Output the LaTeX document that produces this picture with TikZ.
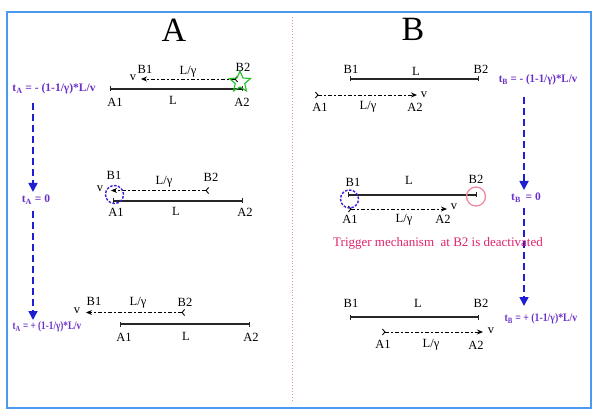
\documentclass[tikz,border=0pt]{standalone}
\usepackage{fontspec}
\usepackage{graphicx}
\setmainfont{Liberation Serif}
\usetikzlibrary{arrows.meta,shapes.geometric}
\definecolor{frameblue}{HTML}{4A9AF0}
\definecolor{divpink}{HTML}{E890B0}
\definecolor{tpurple}{HTML}{6A30C8}
\definecolor{arrblue}{HTML}{1E1ED2}
\definecolor{ringblue}{HTML}{3A1ED8}
\definecolor{trigpink}{HTML}{E0246E}
\definecolor{starg}{HTML}{20C020}
\definecolor{ringpink}{HTML}{F08AA0}
\begin{document}
\begin{tikzpicture}[x=1pt,y=-1pt,
 lbl/.style={font=\fontsize{12.5}{12.5}\selectfont, inner sep=0pt},
 bigtitle/.style={font=\fontsize{34}{34}\selectfont, inner sep=0pt},
 rod/.style={line width=1.1pt, draw=black!85, {Bar[width=5pt]}-{Bar[width=5pt]}},
 mover/.style={line width=0.9pt, dash pattern=on 4pt off 2pt on 2pt off 2pt,
   {Straight Barb[reversed,length=2.5pt,width=6pt]}-{Stealth[length=6pt,width=5pt]}},
 timeflow/.style={arrblue, line width=1.7pt, dash pattern=on 7pt off 4pt,
   -{Triangle[length=9pt,width=9pt]}},
 tlabel/.style={tpurple, font=\bfseries\fontsize{11.5}{12}\selectfont, inner sep=0pt},
 bluering/.style={circle, draw=ringblue, dash pattern=on 2.5pt off 1.5pt, line width=1.4pt,
   minimum size=18pt, inner sep=0pt},
 pinkring/.style={circle, draw=ringpink, line width=1.3pt, minimum size=19pt, inner sep=0pt},
]
\useasboundingbox (0,0) rectangle (600,414);
\fill[white] (0,0) rectangle (600,414);
% frame and divider
\draw[frameblue, line width=1.2pt] (7,12) rectangle (591,408);
\draw[divpink, dotted, line width=0.9pt] (292,17) -- (292,402);
% titles
\node[bigtitle] (titA) at (174,30) {A};
\node[bigtitle] (titB) at (413,29) {B};

% ===== Panel A =====
\node[tlabel] (tA1) at (54,89) {t\textsubscript{A} = - (1-1/γ)*L/v};
\node[tlabel] (tA0) at (36,200) {t\textsubscript{A} = 0};
\node[tlabel] (tA2) at (47,327) {\scalebox{0.8}[1]{t\textsubscript{A} = + (1-1/γ)*L/v}};
\coordinate (vA1) at (33,103);
\coordinate (vA2) at (33,192);
\coordinate (vA3) at (33,211);
\coordinate (vA4) at (33,320);
\draw[timeflow] (vA1) -- (vA2);
\draw[timeflow] (vA3) -- (vA4);

% row 1
\coordinate (a1A1) at (110,89); \coordinate (a1A2) at (243,89);
\draw[rod] (a1A1) -- (a1A2);
\coordinate (a1B2) at (238,79); \coordinate (a1B1) at (141,79);
\draw[mover] (a1B2) -- (a1B1);
\node[star, star points=5, star point ratio=2.2, draw=starg, line width=1.1pt,
  minimum size=22pt, inner sep=0pt] (star) at (240,82) {};
\node[lbl] (a1v) at (133,78) {v};
\node[lbl] (a1b1) at (145,69) {B1};
\node[lbl] (a1lg) at (188,72) {L/γ};
\node[lbl] (a1b2) at (243,67) {B2};
\node[lbl] (a1a1) at (115,102) {A1};
\node[lbl] (a1l) at (173,100) {L};
\node[lbl] (a1a2) at (242,102) {A2};

% row 2
\coordinate (a2A1) at (113,201); \coordinate (a2A2) at (243,201);
\draw[rod] (a2A1) -- (a2A2);
\coordinate (a2B2) at (209,190.5); \coordinate (a2B1) at (111,190.5);
\draw[mover] (a2B2) -- (a2B1);
\node[bluering] (a2ring) at (114.5,194.5) {};
\node[lbl] (a2v) at (100,189) {v};
\node[lbl] (a2b1) at (114,175) {B1};
\node[lbl] (a2lg) at (164,182) {L/γ};
\node[lbl] (a2b2) at (211,177) {B2};
\node[lbl] (a2a1) at (116,212) {A1};
\node[lbl] (a2l) at (176,211) {L};
\node[lbl] (a2a2) at (245,212) {A2};

% row 3
\coordinate (a3A1) at (120,324); \coordinate (a3A2) at (250,324);
\draw[rod] (a3A1) -- (a3A2);
\coordinate (a3B2) at (185,312.5); \coordinate (a3B1) at (86,312.5);
\draw[mover] (a3B2) -- (a3B1);
\node[lbl] (a3v) at (77,311) {v};
\node[lbl] (a3b1) at (94,301) {B1};
\node[lbl] (a3lg) at (138,303) {L/γ};
\node[lbl] (a3b2) at (185,302) {B2};
\node[lbl] (a3a1) at (124,337) {A1};
\node[lbl] (a3l) at (186,336) {L};
\node[lbl] (a3a2) at (251,337) {A2};

% ===== Panel B =====
\node[tlabel] (tB1) at (538,80) {\scalebox{0.95}[1]{t\textsubscript{B} = - (1-1/γ)*L/v}};
\node[tlabel] (tB0) at (526,198) {t\textsubscript{B} \,= 0};
\node[tlabel] (tB2) at (541,319) {\scalebox{0.85}[1]{t\textsubscript{B} = + (1-1/γ)*L/v}};
\coordinate (vB1) at (524,97);
\coordinate (vB2) at (524,190);
\coordinate (vB3) at (524,208);
\coordinate (vB4) at (524,306);
\draw[timeflow] (vB1) -- (vB2);
\draw[timeflow] (vB3) -- (vB4);

% row 1
\coordinate (b1B1) at (350,79); \coordinate (b1B2) at (479,79);
\draw[rod] (b1B1) -- (b1B2);
\coordinate (b1A1) at (315,95); \coordinate (b1A2) at (417,95);
\draw[mover] (b1A1) -- (b1A2);
\node[lbl] (b1b1) at (351,69) {B1};
\node[lbl] (b1l) at (416,71) {L};
\node[lbl] (b1b2) at (481,69) {B2};
\node[lbl] (b1v) at (424,95) {v};
\node[lbl] (b1a1) at (320,107) {A1};
\node[lbl] (b1lg) at (368,107) {L/γ};
\node[lbl] (b1a2) at (415,107) {A2};

% row 2
\coordinate (b2B1) at (348,195); \coordinate (b2B2) at (477,195);
\draw[rod] (b2B1) -- (b2B2);
\coordinate (b2A1) at (348,209); \coordinate (b2A2) at (447,209);
\draw[mover] (b2A1) -- (b2A2);
\node[bluering] (b2ring) at (349.5,199) {};
\node[pinkring] (b2pink) at (476,196.5) {};
\node[lbl] (b2b1) at (353,182) {B1};
\node[lbl] (b2l) at (409,180) {L};
\node[lbl] (b2b2) at (476,179) {B2};
\node[lbl] (b2v) at (454,207) {v};
\node[lbl] (b2a1) at (350,219) {A1};
\node[lbl] (b2lg) at (404,220) {L/γ};
\node[lbl] (b2a2) at (443,219) {A2};
\node[trigpink, font=\fontsize{13}{13}\selectfont, inner sep=0pt] (trig) at (438,243)
  {Trigger mechanism\ \ at B2 is deactivated};

% row 3
\coordinate (b3B1) at (350,317); \coordinate (b3B2) at (479,317);
\draw[rod] (b3B1) -- (b3B2);
\coordinate (b3A1) at (382,332); \coordinate (b3A2) at (483,332);
\draw[mover] (b3A1) -- (b3A2);
\node[lbl] (b3b1) at (351,303) {B1};
\node[lbl] (b3l) at (418,303) {L};
\node[lbl] (b3b2) at (481,303) {B2};
\node[lbl] (b3v) at (491,331) {v};
\node[lbl] (b3a1) at (383,344) {A1};
\node[lbl] (b3lg) at (431,345) {L/γ};
\node[lbl] (b3a2) at (476,345) {A2};
\end{tikzpicture}
\end{document}
